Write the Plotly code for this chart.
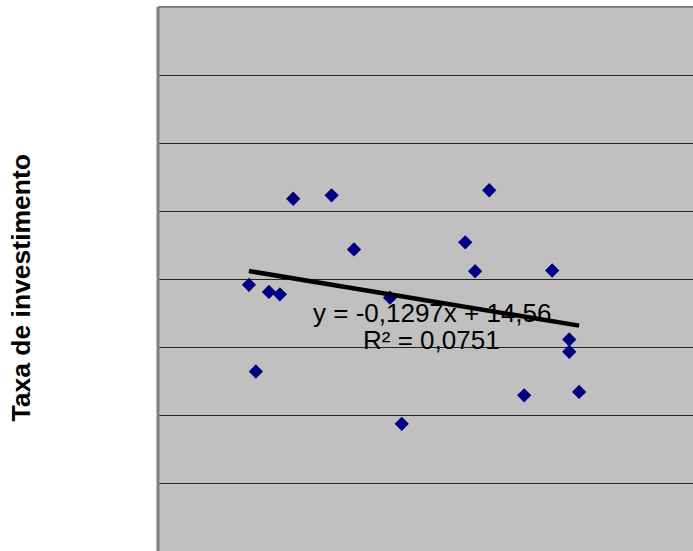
import plotly.graph_objects as go

# Data
x_vals = [48.77, 49.03, 49.52, 49.93, 50.43, 51.87, 52.71, 54.06, 54.50,
          56.88, 57.25, 57.78, 59.09, 60.14, 60.78, 60.78, 61.15]
y_vals = [7.83, 5.28, 7.62, 7.55, 10.36, 10.46, 8.87, 7.45, 3.74,
          9.08, 8.23, 10.61, 4.58, 8.25, 6.22, 5.86, 4.68]

trend_slope = -0.1297
trend_intercept = 14.56
trend_eq_label = "y = -0,1297x + 14,56"
trend_r2_label = "R² = 0,0751"
y_title = "Taxa de investimento"

x_min, x_max = min(x_vals), max(x_vals)
trend_x = [x_min, x_max]
trend_y = [trend_slope * v + trend_intercept for v in trend_x]

fig = go.Figure()
fig.add_trace(go.Scatter(
    x=x_vals, y=y_vals, mode="markers",
    marker=dict(symbol="diamond", size=11, color="#000080", line=dict(width=0)),
    showlegend=False, hoverinfo="skip",
))
fig.add_trace(go.Scatter(
    x=trend_x, y=trend_y, mode="lines",
    line=dict(color="black", width=4.5),
    showlegend=False, hoverinfo="skip",
))

font_family = "Liberation Sans, Arial, sans-serif"

fig.add_annotation(text=trend_eq_label, xref="paper", yref="paper",
                   x=0.514, y=0.4375, xanchor="center", yanchor="middle",
                   showarrow=False, font=dict(family=font_family, size=26, color="black"))
fig.add_annotation(text=trend_r2_label, xref="paper", yref="paper",
                   x=0.512, y=0.388, xanchor="center", yanchor="middle",
                   showarrow=False, font=dict(family=font_family, size=26, color="black"))
fig.add_annotation(text="<b>" + y_title + "</b>", xref="paper", yref="paper",
                   x=(20 - 158) / 535, y=(551 - 287.5) / 544, xanchor="center", yanchor="middle",
                   textangle=-90, showarrow=False,
                   font=dict(family=font_family, size=26.5, color="black"))

# plot-area border (left and top visible)
fig.add_shape(type="line", xref="paper", yref="paper", x0=0, x1=0, y0=0, y1=1,
              line=dict(color="#808080", width=3))
fig.add_shape(type="line", xref="paper", yref="paper", x0=0, x1=1, y0=1, y1=1,
              line=dict(color="#808080", width=2))

fig.update_xaxes(range=[45.36, 65.42], showgrid=False, zeroline=False,
                 showticklabels=False, ticks="", showline=False)
fig.update_yaxes(range=[0, 16], dtick=2, showgrid=True, gridcolor="#222222", gridwidth=1,
                 zeroline=False, showticklabels=False, ticks="", showline=False)

fig.update_layout(
    width=693, height=551,
    margin=dict(l=158, r=0, t=7, b=0),
    paper_bgcolor="white", plot_bgcolor="#C0C0C0",
    font=dict(family=font_family),
)

fig.write_html("out.html", config={"displayModeBar": False},
               post_script="document.body.style.margin='0px';document.body.style.overflow='hidden';")
